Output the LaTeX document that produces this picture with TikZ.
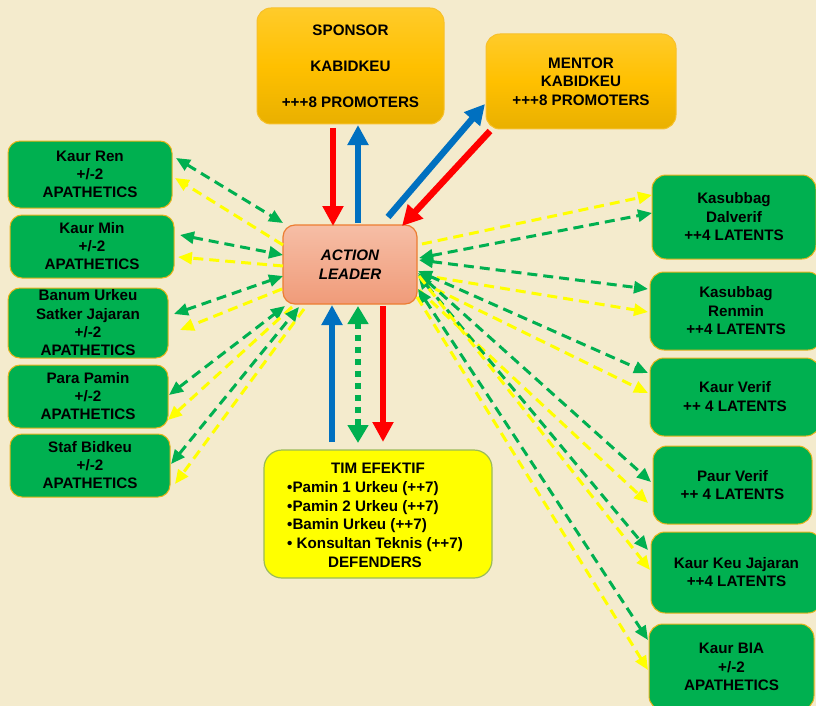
\documentclass[tikz,border=0pt]{standalone}
\usepackage{fontspec}
\setmainfont{Liberation Sans}
\usetikzlibrary{arrows.meta,calc}
\definecolor{bgc}{HTML}{F4EBCD}
\definecolor{gfill}{HTML}{00B050}
\definecolor{gborder}{HTML}{E8B41C}
\definecolor{gline}{HTML}{00B050}
\definecolor{yline}{HTML}{FFFF00}
\definecolor{redA}{HTML}{FF0000}
\definecolor{blueA}{HTML}{0070C0}
\definecolor{orT}{HTML}{FFCB2A}
\definecolor{orM}{HTML}{FFC000}
\definecolor{orB}{HTML}{E9B000}
\definecolor{orBorder}{HTML}{F7C02A}
\definecolor{alT}{HTML}{F6BEA6}
\definecolor{alB}{HTML}{F09B79}
\definecolor{alBorder}{HTML}{ED7D31}
\definecolor{timBorder}{HTML}{9BBB59}
\begin{document}
\begin{tikzpicture}[x=1pt,y=-1pt,
  every node/.style={font=\fontsize{15.2}{18}\selectfont\bfseries, text=black},
  greenbox/.style={draw=gborder, line width=1pt, fill=gfill, rounded corners=12pt, align=center, inner sep=0pt},
  orangebox/.style={draw=orBorder, line width=1pt, top color=orT, bottom color=orB, middle color=orM, rounded corners=14pt, align=center, inner sep=0pt},
  leaderbox/.style={draw=alBorder, line width=1.2pt, top color=alT, bottom color=alB, rounded corners=12pt, align=center, inner sep=0pt, font=\fontsize{15.2}{19}\selectfont\bfseries\itshape},
  timbox/.style={draw=timBorder, line width=1.2pt, fill=yline, rounded corners=18pt, inner sep=0pt},
  txt/.style={inner sep=0pt},
  fatarrow/.style={line width=6.5pt, -{Triangle[length=20pt,width=20pt]}},
  dotarrow/.style={line width=6.5pt, dash pattern=on 6pt off 6pt, {Triangle[length=18pt,width=20pt]}-{Triangle[length=18pt,width=20pt]}},
  gdash/.style={draw=gline, line width=3pt, dash pattern=on 10pt off 6pt, {Triangle[length=14pt,width=12pt]}-{Triangle[length=14pt,width=12pt]}, gline},
  ydash/.style={draw=yline, line width=3pt, dash pattern=on 10pt off 6pt, -{Triangle[length=14pt,width=12pt]}, yline}
]
\useasboundingbox (0,0) rectangle (816,706);
\fill[bgc] (0,0) rectangle (816,706);
\clip (0,0) rectangle (816,706);

% top boxes
\node[orangebox, minimum width=187pt, minimum height=116pt] (Sponsor) at (350.5,66) {SPONSOR\\[18pt]KABIDKEU\\[18pt]+++8 PROMOTERS};
\node[orangebox, minimum width=190pt, minimum height=95pt, font=\fontsize{15.2}{18.5}\selectfont\bfseries] (Mentor) at (581,81.5) {MENTOR\\KABIDKEU\\+++8 PROMOTERS};

% action leader
\node[leaderbox, minimum width=134pt, minimum height=79pt] (AL) at (350,264.5) {ACTION\\LEADER};

% tim efektif
\node[timbox, minimum width=228pt, minimum height=128pt] (Tim) at (378,514) {};
\node[txt] (TimTitle) at (378,468) {TIM EFEKTIF};
\node[txt, anchor=west, align=left, font=\fontsize{15.2}{18.7}\selectfont\bfseries] (TimList) at (287,516.5) {\textbullet Pamin 1 Urkeu (++7)\\\textbullet Pamin 2 Urkeu (++7)\\\textbullet Bamin Urkeu (++7)\\\textbullet\ Konsultan Teknis (++7)};
\node[txt] (TimDef) at (375,562) {DEFENDERS};

% left boxes
\node[greenbox, minimum width=164pt, minimum height=67pt] (KaurRen) at (90,174.5) {Kaur Ren\\+/-2\\APATHETICS};
\node[greenbox, minimum width=164pt, minimum height=63pt] (KaurMin) at (92,246.5) {Kaur Min\\+/-2\\APATHETICS};
\node[greenbox, minimum width=160pt, minimum height=70pt, font=\fontsize{15.2}{18.3}\selectfont\bfseries] (Banum) at (88,323) {Banum Urkeu\\Satker Jajaran\\+/-2\\APATHETICS};
\node[greenbox, minimum width=160pt, minimum height=63pt] (ParaPamin) at (88,396.5) {Para Pamin\\+/-2\\APATHETICS};
\node[greenbox, minimum width=160pt, minimum height=63pt] (Staf) at (90,465.5) {Staf Bidkeu\\+/-2\\APATHETICS};

% right boxes
\node[greenbox, rounded corners=14pt, minimum width=164pt, minimum height=84pt, font=\fontsize{15.2}{18.5}\selectfont\bfseries] (Dalverif) at (734,217) {Kasubbag\\Dalverif\\++4 LATENTS};
\node[greenbox, rounded corners=14pt, minimum width=172pt, minimum height=78pt, font=\fontsize{15.2}{18.5}\selectfont\bfseries] (Renmin) at (736,311) {Kasubbag\\Renmin\\++4 LATENTS};
\node[greenbox, rounded corners=14pt, minimum width=170pt, minimum height=78pt, font=\fontsize{15.2}{19}\selectfont\bfseries] (KaurVerif) at (735,397) {Kaur Verif\\++ 4 LATENTS};
\node[greenbox, rounded corners=14pt, minimum width=159pt, minimum height=78pt] (PaurVerif) at (732.5,485) {Paur Verif\\++ 4 LATENTS};
\node[greenbox, rounded corners=14pt, minimum width=171pt, minimum height=81pt] (KeuJajaran) at (736.5,572.5) {Kaur Keu Jajaran\\++4 LATENTS};
\node[greenbox, rounded corners=14pt, minimum width=165pt, minimum height=86pt, font=\fontsize{15.2}{18.5}\selectfont\bfseries] (BIA) at (731.5,667) {Kaur BIA\\+/-2\\APATHETICS};

% thick arrows
\draw[fatarrow, redA] ($(Sponsor.center)+(-17.5,62)$) -- ($(AL.center)+(-17,-38.5)$);
\draw[fatarrow, blueA] ($(AL.center)+(8,-41.5)$) -- ($(Sponsor.center)+(7.5,59)$);
\draw[fatarrow, blueA] ($(AL.center)+(38,-47.5)$) -- ($(Mentor.center)+(-96,22.5)$);
\draw[fatarrow, redA] ($(Mentor.center)+(-91,49.5)$) -- ($(AL.center)+(52,-38.5)$);
\draw[fatarrow, blueA] ($(Tim.center)+(-46,-72)$) -- ($(AL.center)+(-18,40.5)$);
\draw[dotarrow, gline] ($(AL.center)+(8,41.5)$) -- ($(Tim.center)+(-20,-71)$);
\draw[fatarrow, redA] ($(AL.center)+(33,41.5)$) -- ($(Tim.center)+(5,-72)$);

% left dashed connectors
\draw[gdash] ($(KaurRen.center)+(86,-16.5)$) -- ($(AL.center)+(-67,-41.5)$);
\draw[ydash] ($(AL.center)+(-67,-19.5)$) -- ($(KaurRen.center)+(85,3.5)$);
\draw[gdash] ($(KaurMin.center)+(88,-11.5)$) -- ($(AL.center)+(-67,-9.5)$);
\draw[ydash] ($(AL.center)+(-67,1.5)$) -- ($(KaurMin.center)+(86,10.5)$);
\draw[gdash] ($(Banum.center)+(86,-9)$) -- ($(AL.center)+(-67,11.5)$);
\draw[ydash] ($(AL.center)+(-68,24.5)$) -- ($(Banum.center)+(92,7)$);
\draw[gdash] ($(ParaPamin.center)+(81,-1.5)$) -- ($(AL.center)+(-65,41.5)$);
\draw[ydash] ($(AL.center)+(-58,42.5)$) -- ($(ParaPamin.center)+(80,23.5)$);
\draw[gdash] ($(Staf.center)+(81,-1.5)$) -- ($(AL.center)+(-51,42.5)$);
\draw[ydash] ($(AL.center)+(-46,44.5)$) -- ($(Staf.center)+(85,18.5)$);

% right dashed connectors
\draw[ydash] ($(AL.center)+(72,-20.5)$) -- ($(Dalverif.center)+(-82,-22)$);
\draw[gdash] ($(AL.center)+(69,-6.5)$) -- ($(Dalverif.center)+(-82,-4)$);
\draw[gdash] ($(AL.center)+(69,-4.5)$) -- ($(Renmin.center)+(-88,-22)$);
\draw[ydash] ($(AL.center)+(71,10.5)$) -- ($(Renmin.center)+(-88,1)$);
\draw[gdash] ($(AL.center)+(68,6.5)$) -- ($(KaurVerif.center)+(-87,-24)$);
\draw[ydash] ($(AL.center)+(71,17.5)$) -- ($(KaurVerif.center)+(-87,-4)$);
\draw[gdash] ($(AL.center)+(68,8.5)$) -- ($(PaurVerif.center)+(-81.5,-3)$);
\draw[ydash] ($(AL.center)+(69,25.5)$) -- ($(PaurVerif.center)+(-84.5,18)$);
\draw[gdash] ($(AL.center)+(68,10.5)$) -- ($(KeuJajaran.center)+(-88.5,-22.5)$);
\draw[ydash] ($(AL.center)+(69,11.5)$) -- ($(KeuJajaran.center)+(-86.5,-2.5)$);
\draw[gdash] ($(AL.center)+(68,24.5)$) -- ($(BIA.center)+(-83.5,-27)$);
\draw[ydash] ($(AL.center)+(67,32.5)$) -- ($(BIA.center)+(-83.5,3)$);
\end{tikzpicture}
\end{document}
